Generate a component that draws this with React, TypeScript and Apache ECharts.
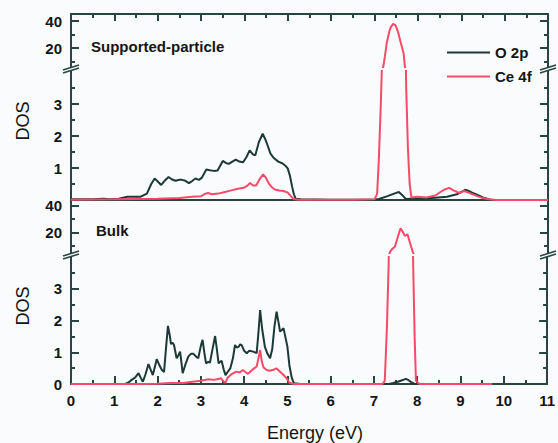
import React, { useEffect, useRef } from "react";
import * as echarts from "echarts";

// ---- data (energy in eV, DOS) ----
const energyMin = 0;
const energyMax = 11;
const upperMajorTicks = [20, 40];
const upperMinorTicks = [10, 30];
const lowerMajorTicks = [1, 2, 3];
const lowerMinorTicks = [0.5, 1.5, 2.5, 3.5];
const supportedLowerLabels = [1, 2, 3];
const bulkLowerLabels = [0, 1, 2, 3];
const seriesNames = ["O 2p", "Ce 4f"];
const panelTitles = ["Supported-particle", "Bulk"];

const supportedO2p: [number, number][] = [
  [0, 0.02], [0.5, 0.02], [0.75, 0.04], [0.9, 0.02], [1.1, 0.04], [1.3, 0.1], [1.6, 0.1],
  [1.75, 0.2], [1.85, 0.5], [1.93, 0.67], [2.0, 0.58], [2.08, 0.47], [2.16, 0.6], [2.25, 0.72],
  [2.33, 0.64], [2.41, 0.6], [2.5, 0.63], [2.56, 0.63], [2.64, 0.6], [2.72, 0.53], [2.8, 0.6],
  [2.87, 0.67], [2.95, 0.63], [3.02, 0.7], [3.12, 0.95], [3.2, 0.93], [3.3, 0.91], [3.38, 0.92],
  [3.5, 1.22], [3.58, 1.15], [3.64, 1.13], [3.72, 1.2], [3.8, 1.26], [3.88, 1.2], [3.97, 1.18],
  [4.05, 1.35], [4.12, 1.55], [4.2, 1.42], [4.25, 1.4], [4.33, 1.8], [4.42, 2.07], [4.48, 1.9],
  [4.53, 1.72], [4.6, 1.45], [4.67, 1.32], [4.78, 1.2], [4.87, 1.15], [4.94, 1.08], [5.0, 0.98],
  [5.05, 0.75], [5.1, 0.41], [5.14, 0.18], [5.18, 0.04], [5.3, 0.02], [6.0, 0.01], [7.0, 0.01],
  [7.1, 0.03], [7.3, 0.12], [7.45, 0.2], [7.56, 0.25], [7.64, 0.15], [7.72, 0.03], [7.85, 0.04],
  [8.1, 0.05], [8.4, 0.07], [8.67, 0.1], [8.9, 0.18], [9.0, 0.25], [9.09, 0.32], [9.18, 0.28],
  [9.28, 0.21], [9.4, 0.14], [9.5, 0.08], [9.67, 0.01], [10, 0], [11, 0],
];

const supportedCe4f: [number, number][] = [
  [0, 0.01], [1, 0.02], [2, 0.04], [2.5, 0.06], [2.8, 0.1], [3.0, 0.12], [3.1, 0.2], [3.16, 0.22],
  [3.25, 0.18], [3.4, 0.2], [3.55, 0.25], [3.7, 0.3], [3.85, 0.35], [3.98, 0.38], [4.07, 0.45],
  [4.13, 0.53], [4.2, 0.45], [4.27, 0.45], [4.35, 0.65], [4.43, 0.8], [4.5, 0.68], [4.56, 0.52],
  [4.63, 0.4], [4.7, 0.33], [4.8, 0.3], [4.9, 0.28], [5.0, 0.23], [5.07, 0.12], [5.13, 0.03],
  [5.25, 0.01], [6.5, 0.01], [7.0, 0.02], [7.06, 0.2], [7.1, 1.3], [7.14, 2.8], [7.18, 4.6],
  [7.2, 6], [7.24, 14], [7.28, 23.6], [7.34, 32.2], [7.38, 36], [7.43, 37.9], [7.48, 37],
  [7.52, 34], [7.55, 31], [7.6, 24.5], [7.67, 16.2], [7.7, 6], [7.73, 3.5], [7.77, 1.6],
  [7.81, 0.5], [7.85, 0.08], [8.0, 0.1], [8.2, 0.08], [8.4, 0.14], [8.52, 0.25], [8.62, 0.33],
  [8.72, 0.38], [8.82, 0.3], [8.95, 0.22], [9.06, 0.28], [9.15, 0.24], [9.28, 0.17], [9.45, 0.08],
  [9.6, 0.03], [9.8, 0.0], [11, 0],
];

const bulkO2p: [number, number][] = [
  [0, 0], [1.25, 0], [1.33, 0.05], [1.4, 0.13], [1.48, 0.2], [1.56, 0.34], [1.61, 0.2], [1.66, 0.07],
  [1.72, 0.3], [1.79, 0.63], [1.84, 0.45], [1.89, 0.28], [1.94, 0.55], [1.98, 0.78], [2.04, 0.6],
  [2.1, 0.44], [2.15, 0.38], [2.2, 1.2], [2.24, 1.83], [2.28, 1.55], [2.31, 1.26], [2.35, 1.3],
  [2.38, 1.23], [2.44, 0.81], [2.48, 0.9], [2.52, 1.02], [2.55, 0.7], [2.58, 0.34], [2.64, 0.6],
  [2.71, 0.86], [2.77, 0.95], [2.83, 0.95], [2.9, 0.85], [2.94, 0.81], [3.0, 1.2], [3.04, 1.39],
  [3.08, 1.0], [3.12, 0.65], [3.17, 0.7], [3.21, 0.67], [3.27, 1.1], [3.33, 1.51], [3.37, 1.1],
  [3.41, 0.65], [3.45, 0.7], [3.48, 0.73], [3.53, 0.45], [3.57, 0.28], [3.63, 0.4], [3.68, 0.49],
  [3.74, 0.8], [3.79, 1.23], [3.83, 1.15], [3.87, 1.17], [3.91, 1.25], [3.94, 1.23], [4.0, 1.05],
  [4.06, 0.97], [4.12, 1.05], [4.21, 1.02], [4.29, 0.97], [4.33, 1.6], [4.37, 2.33], [4.42, 1.7],
  [4.48, 1.17], [4.54, 0.95], [4.6, 0.81], [4.65, 1.1], [4.7, 1.8], [4.75, 2.28], [4.8, 1.9],
  [4.83, 1.65], [4.87, 1.7], [4.91, 1.76], [4.95, 1.5], [5.0, 1.18], [5.05, 0.55], [5.1, 0.2],
  [5.15, 0.02], [5.3, 0], [7.35, 0], [7.45, 0.03], [7.55, 0.07], [7.65, 0.12], [7.74, 0.16],
  [7.8, 0.12], [7.86, 0.06], [7.94, 0], [9.73, 0],
];

const bulkCe4f: [number, number][] = [
  [0, 0], [1.5, 0], [2.0, 0.01], [2.3, 0.03], [2.6, 0.03], [2.8, 0.07], [3.0, 0.1], [3.18, 0.15],
  [3.3, 0.13], [3.4, 0.16], [3.47, 0.18], [3.52, 0.08], [3.57, 0.04], [3.62, 0.2], [3.7, 0.3],
  [3.82, 0.39], [3.9, 0.36], [3.97, 0.44], [4.03, 0.38], [4.09, 0.32], [4.15, 0.4], [4.2, 0.46],
  [4.29, 0.55], [4.33, 0.8], [4.37, 1.07], [4.41, 0.7], [4.45, 0.52], [4.52, 0.44], [4.6, 0.42],
  [4.68, 0.45], [4.75, 0.49], [4.82, 0.4], [4.9, 0.3], [4.98, 0.18], [5.05, 0.04], [5.15, 0],
  [7.2, 0], [7.25, 0.1], [7.3, 1.8], [7.34, 3.8], [7.36, 5.8], [7.4, 7.5], [7.47, 9.5],
  [7.55, 18.1], [7.6, 23.1], [7.65, 20.6], [7.7, 17.4], [7.76, 18.7], [7.82, 12], [7.88, 5.8],
  [7.91, 3.5], [7.94, 1.5], [7.97, 0.1], [8.05, 0], [9.73, 0],
];

// ---- styling ----
const AXIS = "#284542";
const DARK = "#1c3a35";
const RED = "#f54a68";
const TXT = "#151515";
const FONT = "'Liberation Sans', Arial, Helvetica, sans-serif";

const gridLeft = 71;
const gridWidth = 477;
const grids = [
  { top: 14, height: 53, min: 6, max: 45.3 },
  { top: 71, height: 129, min: 0, max: 129 / 32 },
  { top: 200, height: 53, min: 4.8, max: 44.1 },
  { top: 257, height: 127, min: 0, max: 4.0 },
];

function yAxesFor(g: number, majors: number[], minors: number[], labels: number[]) {
  const { min, max } = grids[g];
  const line = { show: true, onZero: false, lineStyle: { color: AXIS, width: 2 } };
  const base = { type: "value", gridIndex: g, min, max, splitLine: { show: false } };
  const lbl = {
    show: labels.length > 0,
    customValues: labels,
    margin: 9,
    color: TXT,
    fontSize: 15,
    fontWeight: "bold",
    fontFamily: FONT,
  };
  return [
    { ...base, position: "left", axisLine: line, axisTick: { show: true, inside: true, length: 8, customValues: majors, lineStyle: { color: AXIS, width: 2 } }, axisLabel: lbl },
    { ...base, position: "left", axisLine: { show: false, onZero: false }, axisTick: { show: true, inside: true, length: 4, customValues: minors, lineStyle: { color: AXIS, width: 2 } }, axisLabel: { show: false } },
    { ...base, position: "right", axisLine: line, axisTick: { show: true, inside: true, length: 8, customValues: majors, lineStyle: { color: AXIS, width: 2 } }, axisLabel: { show: false } },
    { ...base, position: "right", axisLine: { show: false, onZero: false }, axisTick: { show: true, inside: true, length: 4, customValues: minors, lineStyle: { color: AXIS, width: 2 } }, axisLabel: { show: false } },
  ];
}

function breakMark(cx: number, cy: number) {
  const st = { stroke: AXIS, lineWidth: 1.6 };
  return [
    { type: "line", shape: { x1: cx - 8, y1: cy + 1, x2: cx + 8, y2: cy - 4 }, style: st, z: 100 },
    { type: "line", shape: { x1: cx - 8, y1: cy + 4, x2: cx + 8, y2: cy - 1 }, style: st, z: 100 },
  ];
}

export default function App() {
  const ref = useRef<HTMLDivElement>(null);
  useEffect(() => {
    if (!ref.current) return;
    const chart = echarts.init(ref.current, undefined, { renderer: "svg" });
    const axisLine = { show: true, onZero: false, lineStyle: { color: AXIS, width: 2 } };
    const xBase = { type: "value", min: energyMin, max: energyMax, interval: 1, splitLine: { show: false } };
    const mkSeries = (name: string, data: [number, number][], color: string, g: number, z: number) => ({
      type: "line",
      name,
      data,
      xAxisIndex: g,
      yAxisIndex: g * 4,
      symbol: "none",
      showSymbol: false,
      clip: true,
      z,
      lineStyle: { color, width: 2 },
      itemStyle: { color },
    });
    const option: any = {
      animation: false,
      backgroundColor: "#fafbfd",
      grid: grids.map((g) => ({ left: gridLeft, width: gridWidth, top: g.top, height: g.height })),
      xAxis: [
        { ...xBase, gridIndex: 0, position: "top", axisLine, axisTick: { show: true, inside: true, length: 7, lineStyle: { color: AXIS, width: 2 } }, minorTick: { show: true, splitNumber: 2, length: 4, lineStyle: { color: AXIS, width: 2 } }, axisLabel: { show: false } },
        { ...xBase, gridIndex: 1, position: "bottom", axisLine, axisTick: { show: false }, axisLabel: { show: false } },
        { ...xBase, gridIndex: 2, position: "top", axisLine, axisTick: { show: false }, axisLabel: { show: false } },
        { ...xBase, gridIndex: 3, position: "bottom", axisLine, axisTick: { show: true, inside: true, length: 8, lineStyle: { color: AXIS, width: 2 } }, minorTick: { show: true, splitNumber: 2, length: 4, lineStyle: { color: AXIS, width: 2 } }, axisLabel: { show: true, margin: 9, color: TXT, fontSize: 15, fontWeight: "bold", fontFamily: FONT } },
      ],
      yAxis: [
        ...yAxesFor(0, upperMajorTicks, upperMinorTicks, upperMajorTicks),
        ...yAxesFor(1, lowerMajorTicks, lowerMinorTicks, supportedLowerLabels),
        ...yAxesFor(2, upperMajorTicks, upperMinorTicks, upperMajorTicks),
        ...yAxesFor(3, lowerMajorTicks, lowerMinorTicks, bulkLowerLabels),
      ],
      legend: {
        data: seriesNames,
        orient: "vertical",
        left: 441,
        top: 40,
        itemWidth: 43,
        itemHeight: 14,
        itemGap: 9,
        itemStyle: { opacity: 0 },
        lineStyle: { width: 2 },
        textStyle: { color: TXT, fontSize: 15, fontWeight: "bold", fontFamily: FONT },
      },
      series: [
        mkSeries(seriesNames[0], supportedO2p, DARK, 0, 2),
        mkSeries(seriesNames[1], supportedCe4f, RED, 0, 3),
        mkSeries(seriesNames[0], supportedO2p, DARK, 1, 2),
        mkSeries(seriesNames[1], supportedCe4f, RED, 1, 3),
        mkSeries(seriesNames[0], bulkO2p, DARK, 2, 2),
        mkSeries(seriesNames[1], bulkCe4f, RED, 2, 3),
        mkSeries(seriesNames[0], bulkO2p, DARK, 3, 2),
        mkSeries(seriesNames[1], bulkCe4f, RED, 3, 3),
      ],
      graphic: [
        { type: "text", left: 91, top: 39, style: { text: panelTitles[0], fill: TXT, font: `bold 15px ${FONT}` }, z: 100 },
        { type: "text", left: 96, top: 223, style: { text: panelTitles[1], fill: TXT, font: `bold 15px ${FONT}` }, z: 100 },
        { type: "text", x: 23, y: 121, rotation: Math.PI / 2, style: { text: "DOS", fill: TXT, font: `18px ${FONT}`, align: "center", verticalAlign: "middle" }, z: 100 },
        { type: "text", x: 23, y: 306, rotation: Math.PI / 2, style: { text: "DOS", fill: TXT, font: `18px ${FONT}`, align: "center", verticalAlign: "middle" }, z: 100 },
        { type: "text", x: 315, y: 433, style: { text: "Energy (eV)", fill: TXT, font: `18px ${FONT}`, align: "center", verticalAlign: "middle" }, z: 100 },
        ...breakMark(71, 69),
        ...breakMark(548, 69),
        ...breakMark(71, 255),
        ...breakMark(548, 255),
      ],
    };
    chart.setOption(option);
    return () => chart.dispose();
  }, []);
  return <div ref={ref} style={{ position: "absolute", left: 0, top: 0, width: 558, height: 443 }} />;
}
